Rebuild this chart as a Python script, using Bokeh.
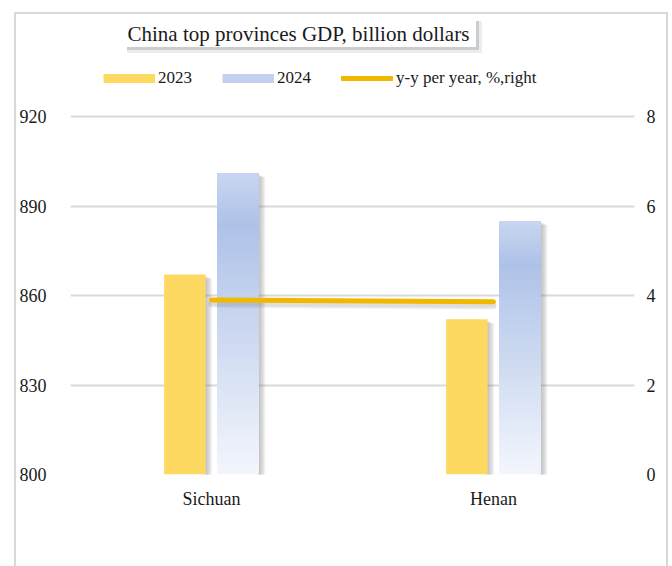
from bokeh.plotting import figure
from bokeh.models import Range1d, LinearAxis, FixedTicker, Legend, LegendItem, Title
from bokeh.embed import file_html
from bokeh.resources import INLINE

# ---------------- data ----------------
categories = ["Sichuan", "Henan"]
gdp_2023 = [867, 852]
gdp_2024 = [901, 885]
yy_growth = [3.90, 3.86]
left_ticks = [800, 830, 860, 890, 920]
right_ticks = [0, 2, 4, 6, 8]
title_text = "China top provinces GDP, billion dollars"
series_names = ["2023", "2024", "y-y per year, %,right"]

# ---------------- style ----------------
FONT = "Liberation Serif"
TXT = "#1a1a1a"
YELLOW = "#FDD962"
GOLD = "#F2B800"
GRID = "#D9D9D9"

W, H = 672, 566
ML, FW = 70, 564
GRID_TOP, GRID_BOT = 116, 474        # pixel rows of 920 and 800
MT = 60                              # frame top (room for the legend inside)
FH = GRID_BOT - MT
ppu = (GRID_BOT - GRID_TOP) / (left_ticks[-1] - left_ticks[0])
y_end = left_ticks[0] + FH / ppu
pct_end = right_ticks[-1] * FH / (GRID_BOT - GRID_TOP)

p = figure(width=W, height=H, x_range=Range1d(0, len(categories)),
           y_range=Range1d(left_ticks[0], y_end), output_backend="svg",
           toolbar_location=None,
           min_border_left=ML, min_border_top=MT, min_border_right=W - ML - FW,
           min_border_bottom=H - GRID_BOT)
p.outline_line_color = None
p.background_fill_alpha = 0
p.border_fill_alpha = 0
p.extra_y_ranges = {"pct": Range1d(0, pct_end)}

# page decoration: chart border and title box with its shadow (CSS behind canvas)
g = "linear-gradient({0},{0})"
p.styles = {
    "background-color": "white",
    "background-image": ", ".join([g.format("#ffffff"),
                                   g.format("rgba(0,0,0,0.14)"),
                                   g.format("rgba(0,0,0,0.07)"),
                                   g.format("#d9d9d9"), g.format("#d9d9d9"),
                                   g.format("#d9d9d9")]),
    "background-size": "352px 29px, 352px 29px, 355px 32px, 2px 600px, 654px 2px, 2px 600px",
    "background-position": "124px 18px, 127px 21px, 127px 21px, 14px 12px, 14px 12px, 666px 12px",
    "background-repeat": "no-repeat",
}

xc = [i + 0.5 for i in range(len(categories))]
off, bw = 0.0945, 0.147
px_x = len(categories) / FW          # data units per pixel (x)
px_y = 1 / ppu                       # data units per pixel (y)

def hexrgb(h):
    h = h.lstrip("#")
    return tuple(int(h[i:i + 2], 16) for i in (0, 2, 4))

def mix(c1, c2, t):
    a, b = hexrgb(c1), hexrgb(c2)
    return "#%02x%02x%02x" % tuple(round(a[i] + (b[i] - a[i]) * t) for i in range(3))

def grad(t):
    # t = 0 bottom, 1 top
    if t < 0.83:
        return mix("#F3F6FC", "#AEC2E8", t / 0.83)
    return mix("#AEC2E8", "#C9D6F0", (t - 0.83) / 0.17)

# bar shadows
for vals, o in ((gdp_2023, -off), (gdp_2024, off)):
    for k in range(1, 6):
        p.quad(left=[c + o + bw / 2 - px_x for c in xc],
               right=[c + o + bw / 2 + k * 1.3 * px_x for c in xc],
               top=[v - (1 + k * 0.6) * px_y for v in vals],
               bottom=[800 - 3 * px_y] * len(vals),
               fill_color="#7f7f7f", fill_alpha=0.11, line_color=None)

# 2023 bars
p.quad(left=[c - off - bw / 2 for c in xc], right=[c - off + bw / 2 for c in xc],
       top=gdp_2023, bottom=[800] * len(xc), fill_color=YELLOW, line_color=None)

# 2024 bars with vertical gradient (overlapping slices, painted bottom-up)
N = 60
for c, v in zip(xc, gdp_2024):
    lefts, rights, tops, bots, cols = [], [], [], [], []
    for i in range(N):
        lefts.append(c + off - bw / 2); rights.append(c + off + bw / 2)
        bots.append(800 + (v - 800) * i / N); tops.append(v)
        cols.append(grad((i + 0.5) / N))
    p.quad(left=lefts, right=rights, top=tops, bottom=bots,
           fill_color=cols, line_color=None)

# line shadow and line
for k, a in ((3, 0.10), (4, 0.10), (5, 0.08)):
    p.line(xc, [y - k * 8 / 358 for y in yy_growth], y_range_name="pct",
           line_color="#7f7f7f", line_alpha=a, line_width=6, line_cap="round")
p.line(xc, yy_growth, y_range_name="pct", line_color=GOLD, line_width=5,
       line_cap="round")

# title
p.title = Title(text=title_text, align="left", offset=57, text_font=FONT,
                text_font_size="21px", text_font_style="normal", text_color=TXT,
                standoff=29)

# legend proxies (placed off the visible x range, only their legend swatch shows)
hid_x, hid_y = [-2, -1], [0, 0]
r23 = p.line(hid_x, hid_y, line_color=YELLOW, line_width=9)
r24 = p.line(hid_x, hid_y, line_color="#C3D1EE", line_width=9)
ryy = p.line(hid_x, hid_y, line_color=GOLD, line_width=5, line_cap="round")
legend = Legend(items=[LegendItem(label=series_names[0], renderers=[r23]),
                       LegendItem(label=series_names[1], renderers=[r24]),
                       LegendItem(label=series_names[2], renderers=[ryy])],
                orientation="horizontal", location=(33, GRID_BOT - 78 - 10),
                glyph_width=52, glyph_height=18, label_standoff=3,
                label_width=64, spacing=0, padding=10,
                label_text_font=FONT, label_text_font_size="17px",
                label_text_color=TXT, background_fill_alpha=0,
                border_line_color=None)
p.add_layout(legend, "center")

# axes
p.yaxis.ticker = FixedTicker(ticks=left_ticks)
right_axis = LinearAxis(y_range_name="pct", ticker=FixedTicker(ticks=right_ticks))
p.add_layout(right_axis, "right")
p.xaxis.ticker = FixedTicker(ticks=xc)
p.xaxis.major_label_overrides = {x: n for x, n in zip(xc, categories)}
for ax in (p.xaxis[0], p.yaxis[0], right_axis):
    ax.axis_line_color = None
    ax.major_tick_line_color = None
    ax.minor_tick_line_color = None
    ax.major_tick_out = 0
    ax.major_tick_in = 0
    ax.major_label_text_font = FONT
    ax.major_label_text_font_size = "18px"
    ax.major_label_text_color = TXT
p.yaxis[0].major_label_standoff = 24
right_axis.major_label_standoff = 12
p.xaxis.major_label_standoff = 14

p.xgrid.grid_line_color = None
p.ygrid.ticker = FixedTicker(ticks=left_ticks)
p.ygrid.grid_line_color = GRID
p.ygrid.grid_line_width = 2

open("out.html", "w").write(file_html(p, INLINE))
